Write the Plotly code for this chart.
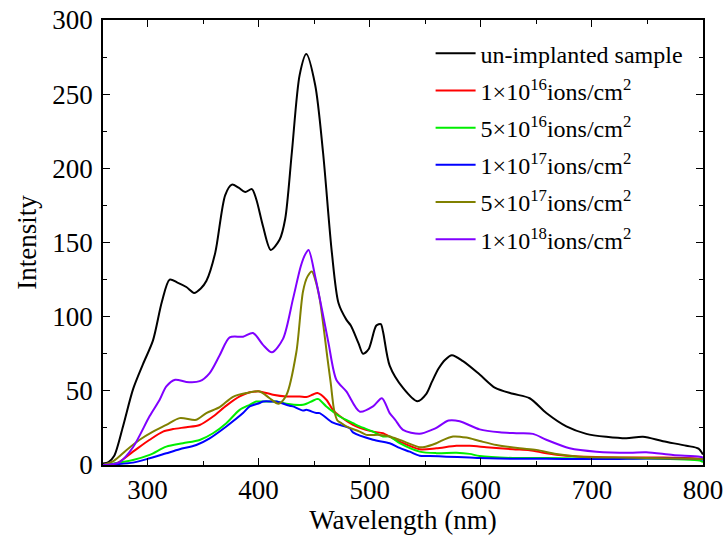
import plotly.graph_objects as go

# ---- data ----
wl_black = [260,265,270,278,287,296,305,313,320,327,335,342,348,353,361,370,376,382,388,394,398,404,411,419,424,430,437,443,451,458,466,472,479,483,490,494,499,506,510,512,518,530,543,551,556,562,568,574,584,599,613,629,644,659,677,695,713,731,746,764,785,796,800]
int_black = [1,2,6,26,51,68,84,110,125,123,120,116,119,124,143,182,189,187,184,186,179,161,145,152,166,211,263,277,256,211,143,109,98,94,82,75,78,94,95,90,67,52,43,48,56,65,71,74,70,61,52,48,45,35,26,21,19,18,19,16,13,11,7]

wl_1e16 = [260,272,287,302,314,323,335,347,359,371,383,392,398,401,413,425,437,443,449,453,461,467,473,485,491,503,512,515,527,545,560,578,590,605,629,644,659,677,704,734,764,797,800]
int_1e16 = [0,1,9,17,22.5,24.2,25.5,27,32.7,40,46.2,49,49.6,49.6,47.4,46.2,46.2,45.8,47.5,48.5,44,37,33,27,25,22.5,21.4,20.3,15.8,10.6,11.3,12.9,12.9,12,10.6,10,7.9,6.3,5.4,5,5,4.2,4]

wl_5e16 = [260,287,302,317,332,347,359,371,383,392,398,401,413,416,425,440,443,448,452,454,461,467,473,485,491,503,512,518,527,545,560,578,590,599,629,659,689,719,749,797,800]
int_5e16 = [0,3.4,6.8,12.4,14.7,16.9,21.4,28.2,37.2,40.6,42.8,42.8,42.8,42.8,41.3,40.6,41.3,43,44.4,44.4,39.5,36,32.7,28.2,26,22.5,19.2,19.2,14.7,9,8,8.3,7.5,6,4.7,4.7,4.4,4.4,4.4,3,2]

wl_1e17 = [260,287,302,317,329,344,356,371,386,392,401,404,413,416,428,431,440,443,452,455,467,482,485,503,518,527,536,545,554,569,590,599,629,659,689,719,749,797,800]
int_1e17 = [0,1.6,4.5,7.9,10.6,13.5,18,26,35,39.5,41.8,42.8,42.8,42.8,39.9,39.5,36.7,37.2,35,35,28.5,24.8,22,17,14.7,11.5,9,6.3,6.1,5.6,5,4.7,4.2,4.2,4,4,4.4,4,3.5]

wl_5e17 = [260,270,281,293,305,317,329,344,353,365,377,389,401,410,418,425,434,440,444,448,451,455,462,465,468,471,475,479,491,497,509,518,527,545,548,560,563,575,587,599,614,635,650,668,689,719,749,797,800]
int_5e17 = [0,3,10,17,22.5,27,31.6,30.5,35,39,46,48.5,49.6,45,41.3,47,76,117,127,130.5,125,112,72,55,37,30,28,26,22.5,20.3,20.3,19.2,16.9,12,12,14.7,15.8,19.2,18.5,16.2,13.5,11.3,10.2,7.4,5.6,5,4.7,4,4]

wl_1e18 = [260,268,275,287,302,311,317,325,335,347,356,365,374,386,395,404,412,422,431,438,442,445,451,457,463,470,479,491,503,511,518,523,530,545,557,560,571,581,599,617,632,647,659,680,704,734,749,773,797,800]
int_1e18 = [0,0.5,2,12,33,44,53,57.5,56,56.5,62,74,86,86.5,89,81,76,85,112,134,142,145,127,105,82,57.5,49.6,36,39.5,45,35,30.5,23.7,21,24,25,30,29.5,24,22,21.4,21,17,11.3,9,8.3,8.6,6.8,5.6,5]

names = [
    "un-implanted sample",
    "1×10<sup>16</sup>ions/cm<sup>2</sup>",
    "5×10<sup>16</sup>ions/cm<sup>2</sup>",
    "1×10<sup>17</sup>ions/cm<sup>2</sup>",
    "5×10<sup>17</sup>ions/cm<sup>2</sup>",
    "1×10<sup>18</sup>ions/cm<sup>2</sup>",
]
colors = ["#000000", "#ff0000", "#00ee00", "#0000ff", "#808000", "#8000ff"]
series = [(wl_black, int_black), (wl_1e16, int_1e16), (wl_5e16, int_5e16),
          (wl_1e17, int_1e17), (wl_5e17, int_5e17), (wl_1e18, int_1e18)]

FONT = "Times New Roman"

fig = go.Figure()
for i, ((x, y), n, c) in enumerate(zip(series, names, colors)):
    fig.add_trace(go.Scatter(x=x, y=y, name=n, mode="lines", legendgroup=f"g{i}",
                             line=dict(color=c, width=2, shape="spline", smoothing=0.8)))

axis_common = dict(
    showline=True, linecolor="black", linewidth=1.5, mirror="ticks",
    ticks="inside", ticklen=7, tickwidth=1.2, tickcolor="black",
    showgrid=False, zeroline=False, automargin=False,
    tickfont=dict(family=FONT, size=27, color="black"),
)
fig.update_xaxes(range=[260, 800], dtick=100, tick0=0,
                 minor=dict(ticks="inside", ticklen=4, dtick=50, tickcolor="black", tickwidth=1.2),
                 title=dict(text="Wavelength (nm)", font=dict(family=FONT, size=27, color="black"), standoff=4),
                 **axis_common)
fig.update_yaxes(range=[0, 300], dtick=50, tick0=0, ticklabelstandoff=3,
                 minor=dict(ticks="inside", ticklen=4, dtick=25, tickcolor="black", tickwidth=1.2),
                 title=dict(text="Intensity", font=dict(family=FONT, size=27, color="black"), standoff=8),
                 **axis_common)

fig.update_layout(
    width=725, height=537,
    margin=dict(l=103, r=22, t=20, b=72, autoexpand=False),
    paper_bgcolor="white", plot_bgcolor="white",
    font=dict(family=FONT, color="black"),
    legend=dict(x=0.546, y=0.975, xanchor="left", yanchor="top",
                bgcolor="rgba(0,0,0,0)", font=dict(family=FONT, size=24, color="black"),
                tracegroupgap=3, itemwidth=40),
    showlegend=True,
)

fig.write_html("out.html", config={"displayModeBar": False},
               post_script="document.body.style.margin='0px';")
